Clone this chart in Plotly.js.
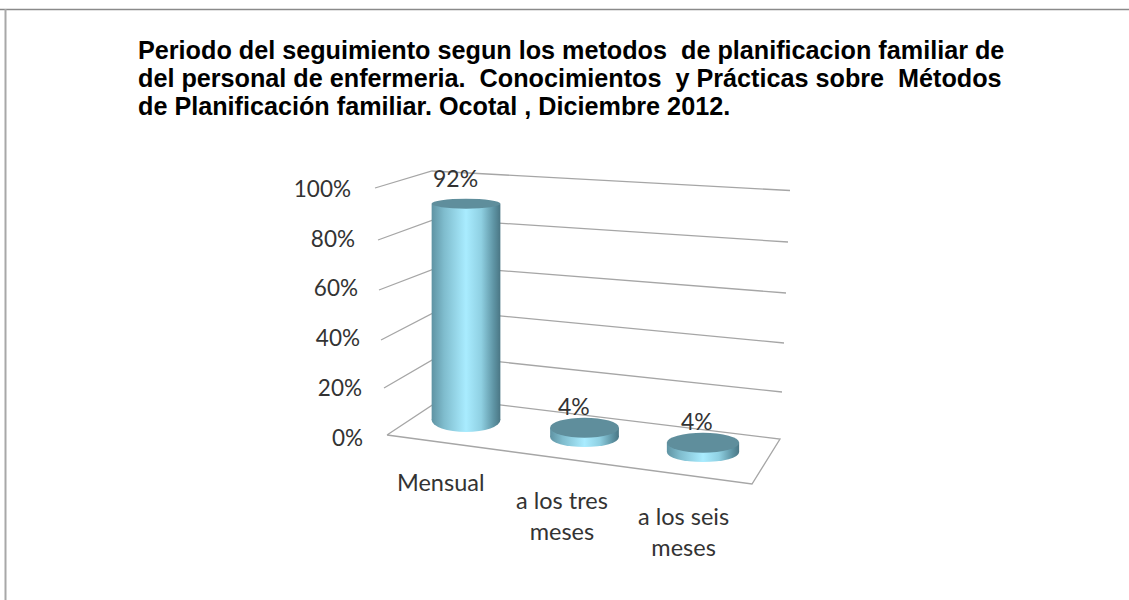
<!DOCTYPE html>
<html>
<head>
<meta charset="utf-8">
<script src="https://cdn.plot.ly/plotly-3.0.1.min.js"></script>
<style>html,body{margin:0;padding:0;background:#fff}#chart{width:1129px;height:600px}</style>
</head>
<body>
<div id="chart"></div>
<script>
const categories = ["Mensual", "a los tres meses", "a los seis meses"];
const values = [92, 4, 4];
const tickValues = [0, 20, 40, 60, 80, 100];
const tickLabels = ["0%", "20%", "40%", "60%", "80%", "100%"];
const chartTitle = "Periodo del seguimiento segun los metodos\u00a0 de planificacion familiar de<br>del personal de enfermeria.\u00a0 Conocimientos\u00a0 y Prácticas sobre\u00a0 Métodos<br>de Planificación familiar. Ocotal , Diciembre 2012.";

// perspective look of the floor and walls
const barBase = [7.7, 0.4, -6.0];
const barWidth = [0.58, 0.58, 0.61];
const topRy = [5, 10, 10], baseRy = [12, 10, 10];
const tickSlant = [0, -1, -3, -5, -8, -12];
const W = 1129, H = 600;
const pxPerUnitBars = 2.35, pxPerUnitAxis = 2.49, zeroPy = 438;
const pxPerCat = 118.5, cat0Px = 466;
const px = x => x / W, py = y => 1 - y / H;
const line = (pts, color, width) => ({
  type: 'path', xref: 'paper', yref: 'paper', layer: 'below',
  path: pts.map((p, i) => (i ? 'L' : 'M') + px(p[0]) + ',' + py(p[1])).join(' '),
  line: {color: color, width: width}
});
const grid = '#a6a6a6';
const wallLines = [
  [[375,188],[432,171],[790,190.5]],
  [[378,240],[436,219],[788,242]],
  [[379,290],[442,266],[786,293]],
  [[381,340],[439,310],[784,343]],
  [[384,388],[440,355.5],[782,392]],
  [[387,435],[443,398],[780,439],[752,484],[387,435]]
];
const shapes = wallLines.map(l => line(l, grid, 1.3));
shapes.push(line([[0,9.5],[W,9.5]], '#8a8a8a', 1.5));
shapes.push(line([[5.5,9],[5.5,H]], '#a8a8a8', 2));
const firstCyl = shapes.length;
values.forEach((v, i) => {
  shapes.push({type:'circle', xref:'x', yref:'y2', layer:'above',
    x0:i-barWidth[i]/2, x1:i+barWidth[i]/2,
    y0:barBase[i]-baseRy[i]/pxPerUnitBars, y1:barBase[i]+baseRy[i]/pxPerUnitBars,
    fillcolor:'#8fd0e2', line:{width:0}});
});
values.forEach((v, i) => {
  const t = barBase[i] + v;
  shapes.push({type:'circle', xref:'x', yref:'y2', layer:'above',
    x0:i-barWidth[i]/2, x1:i+barWidth[i]/2,
    y0:t-topRy[i]/pxPerUnitBars, y1:t+topRy[i]/pxPerUnitBars,
    fillcolor:'#5f8e9c', line:{width:0}});
});

const catLabelPos = [[440,482],[562,515],[683,531]];
const valueShift = [[-11,26],[-11,22],[-6,22]];
const family = 'Lato, "Open Sans", sans-serif';
const annotations = categories.map((c, i) => ({
  xref:'paper', yref:'paper', x:px(catLabelPos[i][0]), y:py(catLabelPos[i][1]),
  text:c.replace(/ (\S+)$/, i ? '<br>$1' : ' $1'), showarrow:false,
  font:{family, size:23.5, color:'#333'}, align:'center',
  xanchor:'center', yanchor:'middle'
})).concat(values.map((v, i) => ({
  xref:'x', yref:'y2', x:i, y:barBase[i]+v, text:v+'%', showarrow:false,
  xshift:valueShift[i][0], yshift:valueShift[i][1], font:{family, size:23, color:'#333'},
  xanchor:'center', yanchor:'middle'
})));

const trace = {
  type:'bar', x:[0,1,2], y:values, base:barBase, yaxis:'y2', width:barWidth,
  marker:{color:'#8fd0e2', line:{width:0}}, hoverinfo:'skip', showlegend:false,
  customdata:categories
};
const layout = {
  width:W, height:H, margin:{l:0,r:0,t:0,b:0}, paper_bgcolor:'#fff', plot_bgcolor:'rgba(0,0,0,0)',
  showlegend:false, shapes, annotations,
  title:{text:chartTitle, x:138/W, xanchor:'left', xref:'paper', y:1-59/H, yanchor:'top',
    font:{family:'"Liberation Sans", Arial, sans-serif', size:25.2, color:'#000', weight:700}, pad:{l:0,t:0}},
  xaxis:{type:'linear', range:[-cat0Px/pxPerCat,(W-cat0Px)/pxPerCat], visible:false, fixedrange:true},
  yaxis:{range:[(zeroPy-H)/pxPerUnitAxis, zeroPy/pxPerUnitAxis], anchor:'free', position:363/W, tickmode:'array',
    tickvals:tickValues, ticktext:tickLabels, showgrid:false, zeroline:false, showline:false,
    ticks:'', ticklen:0, tickfont:{family, size:22.5, color:'#333'}, fixedrange:true},
  yaxis2:{range:[(zeroPy-H)/pxPerUnitBars, zeroPy/pxPerUnitBars], overlaying:'y', visible:false, fixedrange:true}
};
// the y-axis needs a trace to be drawn
const axisTrace = {type:'scatter', mode:'none', x:[0], y:[0], hoverinfo:'skip', showlegend:false};

Plotly.newPlot('chart', [axisTrace, trace], layout, {displayModeBar:false, staticPlot:true}).then(gd => {
  const defs = gd.querySelector('svg.main-svg defs') ;
  const ns = 'http://www.w3.org/2000/svg';
  const g = document.createElementNS(ns, 'linearGradient');
  g.setAttribute('id', 'cyl');
  [[0,'#5f93a3'],[0.18,'#7fbccd'],[0.5,'#a9ecff'],[0.72,'#8fd0e2'],[0.9,'#5f95a5'],[1,'#4a7684']].forEach(s => {
    const st = document.createElementNS(ns, 'stop');
    st.setAttribute('offset', s[0]); st.setAttribute('stop-color', s[1]); g.appendChild(st);
  });
  defs.appendChild(g);
  gd.querySelectorAll('.bars .point path').forEach(p => p.style.setProperty('fill', 'url(#cyl)'));
  gd.querySelectorAll('.shapelayer path').forEach(p => {
    const idx = +p.getAttribute('data-index');
    if (idx >= firstCyl && idx < firstCyl + values.length) p.style.setProperty('fill', 'url(#cyl)');
  });
  // tight title leading, slanted wall edge for the tick labels
  gd.querySelectorAll('.gtitle .line').forEach((t, i) => { if (i) t.setAttribute('dy', (i * 28) + 'px'); });
  gd.querySelectorAll('.ytick text').forEach(t => {
    const k = tickLabels.indexOf(t.textContent);
    if (k >= 0) t.setAttribute('x', +t.getAttribute('x') + tickSlant[k]);
  });
});
</script>
</body>
</html>
